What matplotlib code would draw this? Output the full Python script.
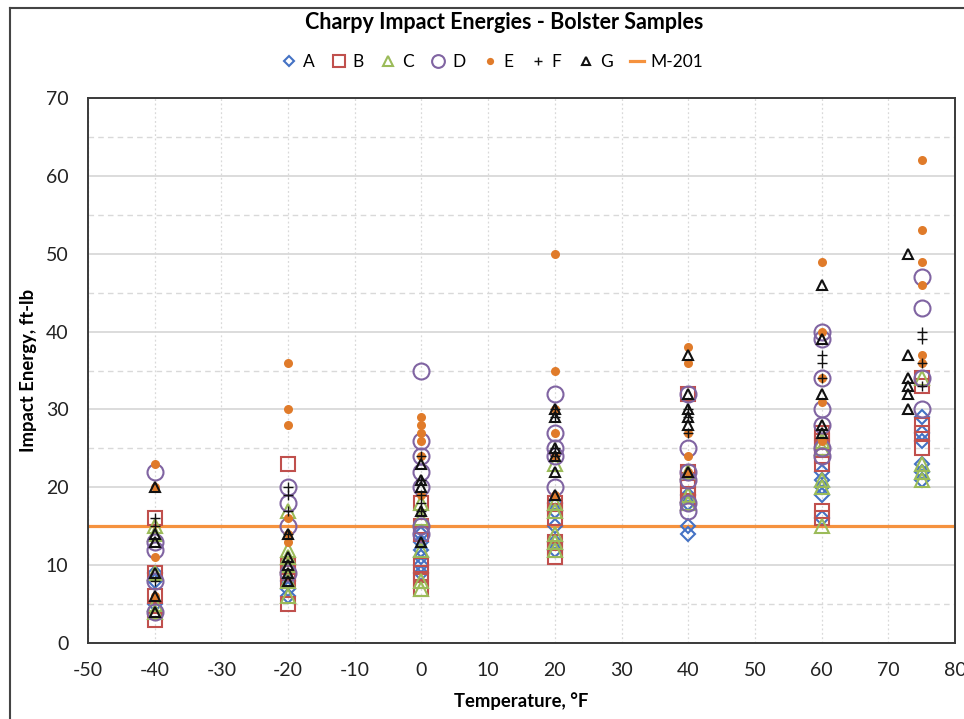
import matplotlib
matplotlib.use("Agg")
import matplotlib.pyplot as plt
from matplotlib.lines import Line2D
from matplotlib.ticker import MultipleLocator

plt.rcParams["font.family"] = ["Lato", "DejaVu Sans"]
plt.rcParams["axes.unicode_minus"] = False

# impact energy (ft-lb) per test temperature (°F)
A = {-40: [9, 8, 5], -20: [8, 7, 6], 0: [14, 13, 12, 11, 10, 9],
     20: [18, 17, 15, 13, 12], 40: [19, 18, 15, 14],
     60: [22, 21, 20, 19, 16], 75: [29, 27, 26, 23, 22, 21]}
B = {-40: [16, 9, 6, 3], -20: [23, 10, 9, 8, 5], 0: [18, 15, 14, 10, 9, 8, 7],
     20: [18, 17, 16, 13, 12, 11], 40: [32, 22, 21, 20, 19, 18],
     60: [27, 26, 25, 24, 23, 17, 16], 75: [34, 33, 28, 27, 25]}
C = {-40: [15, 14, 9, 5, 4], -20: [17, 12, 11, 10, 8, 6], 0: [18, 16, 12, 8, 7],
     20: [23, 18, 17, 14, 13, 12], 40: [22, 19, 18],
     60: [26, 25, 21, 20, 15], 75: [34, 23, 22, 21]}
D = {-40: [22, 13, 12, 8, 4], -20: [20, 18, 15, 9], 0: [35, 26, 24, 22, 20, 15, 14],
     20: [32, 27, 25, 24, 20], 40: [32, 25, 22, 21, 18, 17],
     60: [40, 39, 34, 30, 28, 25, 24], 75: [47, 43, 34, 30]}
E = {-40: [23, 20, 11, 6], -20: [36, 30, 28, 16, 14, 13], 0: [29, 28, 27, 26, 24, 19],
     20: [50, 35, 30, 27, 24, 19], 40: [38, 36, 27, 24, 22],
     60: [49, 40, 34, 31, 26], 75: [62, 53, 49, 46, 37, 36]}
F = {-40: [16, 15, 8], -20: [20, 19, 17, 14], 0: [24, 21, 19, 18, 17],
     20: [30, 29, 25, 24], 40: [30, 29, 27],
     60: [37, 36, 34], 75: [40, 39, 36, 33]}
G = {-40: [20, 14, 13, 9, 6, 4], -20: [14, 11, 10, 9, 8], 0: [23, 21, 20, 17, 13],
     20: [30, 29, 25, 24, 22, 19], 40: [37, 32, 30, 29, 28, 22],
     60: [46, 39, 32, 28, 27], 73: [50, 37, 34, 33, 32, 30]}
M201 = 15

def flatten(d):
    xs, ys = [], []
    for t, vals in d.items():
        xs += [t] * len(vals)
        ys += vals
    return xs, ys

styles = [
    ("A", A, dict(marker="D", ms=7, mfc="none", mec="#4472C4", mew=1.5)),
    ("B", B, dict(marker="s", ms=10.5, mfc="none", mec="#C0504D", mew=1.5)),
    ("C", C, dict(marker="^", ms=9.5, mfc="none", mec="#9BBB59", mew=1.5)),
    ("D", D, dict(marker="o", ms=11.5, mfc="none", mec="#8064A2", mew=1.5)),
    ("E", E, dict(marker="o", ms=6.5, mfc="#E07B2A", mec="#E07B2A", mew=0)),
    ("F", F, dict(marker="+", ms=7.5, mec="#111111", mew=1.0)),
    ("G", G, dict(marker="^", ms=6.5, mfc="none", mec="#111111", mew=1.5)),
]

fig = plt.figure(figsize=(9.64, 7.19), dpi=100)
ax = fig.add_axes([88 / 964, 1 - 643 / 719, (955 - 88) / 964, (643 - 98) / 719])

handles = []
for name, data, st in styles:
    xs, ys = flatten(data)
    ax.plot(xs, ys, ls="none", zorder=3, **st)
    handles.append(Line2D([], [], ls="none", label=name, **st))

ax.axhline(M201, color="#F5923E", lw=2.3, zorder=2)
handles.append(Line2D([], [], color="#F5923E", lw=2.3, label="M-201"))

ax.set_xlim(-50, 80)
ax.set_ylim(0, 70)
ax.xaxis.set_major_locator(MultipleLocator(10))
ax.yaxis.set_major_locator(MultipleLocator(10))
ax.yaxis.set_minor_locator(MultipleLocator(5))
ax.grid(which="major", axis="y", color="#D9D9D9", lw=1.3, zorder=0)
ax.grid(which="minor", axis="y", color="#D9D9D9", lw=1.0, ls=(0, (4, 3)), zorder=0)
ax.grid(which="major", axis="x", color="#D9D9D9", lw=0.9, ls=(0, (1.5, 2)), zorder=0)
ax.set_axisbelow(True)
ax.tick_params(which="both", length=0, labelsize=14, colors="#222222", pad=14)
ax.tick_params(axis="x", pad=14)
for s in ax.spines.values():
    s.set_color("#3A3A3A")
    s.set_linewidth(1.4)

ax.set_xlabel("Temperature, °F", fontsize=13.3, fontweight="bold", labelpad=9)
ax.set_ylabel("Impact Energy, ft-lb", fontsize=13.3, fontweight="bold", labelpad=6)

fig.text(0.523, 0.969, "Charpy Impact Energies - Bolster Samples",
         ha="center", va="center", fontsize=15.5, fontweight="bold")
fig.legend(handles=handles, loc="center", bbox_to_anchor=(0.511, 0.914), ncol=8,
           frameon=False, fontsize=12.5, markerscale=0.8, handlelength=0.8,
           handletextpad=0.4, columnspacing=1.0)

# outer chart border
fig.add_artist(Line2D([10 / 964, 10 / 964], [0, 1 - 8 / 719], color="#444444", lw=1.5))
fig.add_artist(Line2D([10 / 964, 1], [1 - 8 / 719, 1 - 8 / 719], color="#444444", lw=1.5))

fig.savefig("out.png", dpi=100)
